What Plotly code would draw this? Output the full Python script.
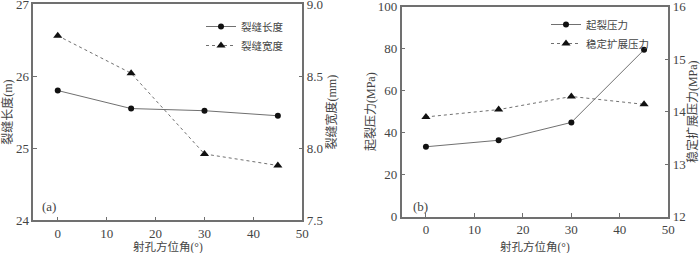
import plotly.graph_objects as go

angles = [0, 15, 30, 45]
crack_length = [25.80, 25.55, 25.52, 25.45]
crack_width = [8.78, 8.52, 7.96, 7.88]
init_pressure = [33.3, 36.4, 44.9, 79.5]
stable_pressure = [13.90, 14.04, 14.29, 14.14]
x_title = "射孔方位角(°)"

FONT = "Liberation Serif, Times New Roman, Noto Sans CJK SC, serif"
AX = "#707070"
TXT = "#444444"
LINE = "#707070"

W, H = 700, 253
def xd(a, b):
    return [a / W, b / W]
def yd(top, bot):
    return [1 - bot / H, 1 - top / H]

fig = go.Figure()
fig.add_trace(go.Scatter(x=angles, y=crack_length, name="裂缝长度", mode="lines+markers",
                         line=dict(color=LINE, width=1), marker=dict(symbol="circle", size=6, color="#111"),
                         xaxis="x", yaxis="y", legend="legend"))
fig.add_trace(go.Scatter(x=angles, y=crack_width, name="裂缝宽度", mode="lines+markers",
                         line=dict(color=LINE, width=1, dash="dot"), marker=dict(symbol="triangle-up", size=8, color="#111"),
                         xaxis="x", yaxis="y2", legend="legend"))
fig.add_trace(go.Scatter(x=angles, y=init_pressure, name="起裂压力", mode="lines+markers",
                         line=dict(color=LINE, width=1), marker=dict(symbol="circle", size=6, color="#111"),
                         xaxis="x2", yaxis="y3", legend="legend2"))
fig.add_trace(go.Scatter(x=angles, y=stable_pressure, name="稳定扩展压力", mode="lines+markers",
                         line=dict(color=LINE, width=1, dash="dot"), marker=dict(symbol="triangle-up", size=8, color="#111"),
                         xaxis="x2", yaxis="y4", legend="legend2"))

common = dict(showline=True, linecolor=AX, linewidth=1.5, ticks="inside", ticklen=4, tickcolor=AX,
              showgrid=False, zeroline=False, automargin=False, ticklabeloverflow="allow",
              tickfont=dict(size=13, color=TXT, family=FONT),
              title_font=dict(size=12, color=TXT, family=FONT))

fig.update_layout(
    width=W, height=H, margin=dict(l=0, r=0, t=0, b=0),
    plot_bgcolor="white", paper_bgcolor="white",
    font=dict(family=FONT, color=TXT),
    xaxis=dict(domain=xd(33.3, 302.3), anchor="y", range=[-5, 50], dtick=10, mirror=True, **common),
    yaxis=dict(domain=yd(4, 220.3), anchor="x", range=[24, 27], dtick=1, mirror=True,
               title=dict(text="裂缝长度(m)", standoff=4), **common),
    yaxis2=dict(overlaying="y", side="right", anchor="x", range=[7.5, 9.0], dtick=0.5, tickformat=".1f",
                title=dict(text="裂缝宽度(mm)", standoff=6), **common),
    xaxis2=dict(domain=xd(401.7, 668.3), anchor="y3", range=[-5, 50], dtick=10, mirror=True, **common),
    yaxis3=dict(domain=yd(6.7, 216.7), anchor="x2", range=[0, 100], dtick=20, mirror=True,
                title=dict(text="起裂压力(MPa)", standoff=0), **common),
    yaxis4=dict(overlaying="y3", side="right", anchor="x2", range=[12, 16], dtick=1,
                title=dict(text="稳定扩展压力(MPa)", standoff=6), **common),
    legend=dict(x=201 / W, y=1 - 12 / H, xanchor="left", yanchor="top", bgcolor="rgba(0,0,0,0)",
                font=dict(size=10.5, color=TXT, family=FONT), itemwidth=30, tracegroupgap=0),
    legend2=dict(x=546 / W, y=1 - 10 / H, xanchor="left", yanchor="top", bgcolor="rgba(0,0,0,0)",
                 font=dict(size=10.5, color=TXT, family=FONT), itemwidth=30, tracegroupgap=0),
    annotations=[
        dict(text="(a)", xref="paper", yref="paper", x=40 / W, y=1 - 206 / H, xanchor="left", yanchor="middle",
             showarrow=False, font=dict(size=13, color=TXT, family=FONT)),
        dict(text="(b)", xref="paper", yref="paper", x=411 / W, y=1 - 206 / H, xanchor="left", yanchor="middle",
             showarrow=False, font=dict(size=13, color=TXT, family=FONT)),
        dict(text=x_title, xref="x domain", yref="paper", x=0.5, y=1 - 246.5 / H, xanchor="center", yanchor="middle",
             showarrow=False, font=dict(size=11.5, color=TXT, family=FONT)),
        dict(text=x_title, xref="x2 domain", yref="paper", x=0.5, y=1 - 246.5 / H, xanchor="center", yanchor="middle",
             showarrow=False, font=dict(size=11.5, color=TXT, family=FONT)),
    ],
)

fig.write_html("out.html", config={"displayModeBar": False},
               post_script="document.body.style.margin='0px';")
